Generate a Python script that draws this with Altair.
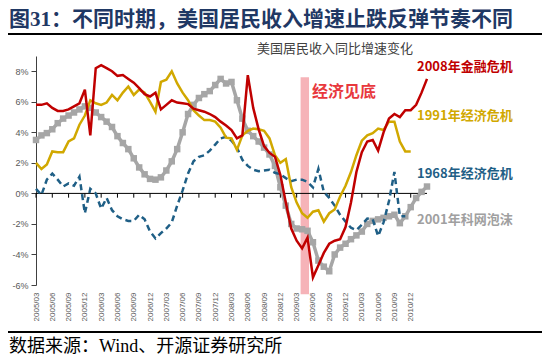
import altair as alt
import pandas as pd

# ---- categories -------------------------------------------------------
months = []
for yr in range(2005, 2012):
    for mo in range(1, 13):
        months.append(f"{yr}/{mo:02d}")
months = months[months.index("2005/03"): months.index("2011/03") + 1]
quarter_labels = months[0:70:3]          # 2005/03 ... 2010/12

# ---- series values (% yoy) -------------------------------------------
red_2008 = [5.8, 5.8, 5.9, 5.6, 5.4, 5.4, 5.5, 5.7, 5.9, 6.8,
            3.8, 8.2, 8.4, 8.2, 8.0, 7.7, 7.75, 7.5, 7.25, 6.9,
            6.5, 6.35, 6.6, 5.5, 5.8, 6.1, 5.95, 5.9, 5.85, 5.55,
            5.45, 5.35, 5.2, 5.0, 4.7, 4.45, 4.15, 3.6, 3.8, 7.75,
            5.6, 4.2, 3.1, 2.65, 2.4, 1.2, -0.6, -2.3, -3.1, -3.6,
            -2.9, -5.5, -4.7, -3.9, -3.3, -3.1, -3.0, -2.2, -0.6, 1.4,
            2.7, 3.4, 3.5, 2.8, 4.0, 4.9, 5.2, 5.0, 5.45, 5.45,
            5.8, 6.6, 7.5]
yellow_1991 = [2.0, 1.6, 1.9, 2.75, 2.7, 2.7, 3.4, 3.6, 4.5, 5.1,
               6.1, 5.9, 5.8, 5.95, 6.45, 6.1, 6.6, 7.0, 6.45, 6.8,
               6.6, 6.0, 5.35, 7.3, 7.45, 8.0, 7.2, 6.6, 6.1, 5.45,
               5.1, 4.8, 4.8, 4.7, 4.3, 3.65, 3.6, 2.85, 3.8, 4.1,
               4.25, 4.2, 4.1, 3.6, 2.5, 2.0, 2.25, 0.4, -0.6, -1.3,
               -1.6, -1.2, -1.1, -1.85, -1.3, -1.05, -0.2, 0.5, 1.4, 2.5,
               3.45, 3.8, 3.95, 4.25, 4.15, 4.7, 4.7, 3.4, 2.75, 2.75]
blue_1968 = [0.3, -0.1, 0.9, 1.3, 0.9, 0.45, 0.65, 0.5, 1.1, -1.3,
             0.3, 0.0, -1.0, -0.3, -1.1, -1.5, -1.7, -1.8, -1.8, -1.4,
             -1.7, -2.5, -2.95, -2.6, -2.3, -1.9, -0.8, 0.2, 1.3, 2.1,
             2.4, 2.5, 2.8, 3.2, 3.6, 3.7, 3.45, 3.0, 2.2, 1.8,
             1.55, 1.45, 1.5, 1.55, 1.35, 1.25, 1.0, 0.8, 0.9, 0.9,
             0.75, 0.4, 1.6, 0.1, -0.3, -0.8, -1.4, -1.85, -2.25, -2.4,
             -2.05, -1.65, -1.7, -2.8, -1.9, -0.5, 1.4, -1.5, -1.5]
gray_2001 = [3.5, 3.8, 3.95, 4.2, 4.6, 4.9, 5.1, 5.3, 5.5, 5.7,
             5.6, 5.3, 5.0, 4.7, 4.35, 3.75, 3.3, 2.9, 2.3, 1.7,
             1.25, 0.95, 0.9, 1.05, 1.5, 2.1, 2.9, 4.0, 5.2, 5.8,
             6.25, 6.5, 6.7, 7.1, 7.5, 7.2, 7.3, 6.1, 4.9, 4.1,
             3.75, 3.4, 3.0, 2.55, 1.8, 0.4, -0.8, -2.0, -2.3, -2.35,
             -2.45, -3.2, -4.4, -4.8, -5.1, -4.0, -3.55, -3.3, -3.0, -2.75,
             -2.5, -2.0, -1.8, -1.7, -1.6, -1.5, -1.4, -1.95, -1.5, -0.9,
             -0.3, 0.1, 0.45]

series_labels = ["2008年金融危机", "1991年经济危机", "1968年经济危机", "2001年科网泡沫"]
band_months = ["2009/04", "2009/05"]
band_range = [7.6, -6.6]
band_text = "经济见底"
title_text = "图31：不同时期，美国居民收入增速止跌反弹节奏不同"
subtitle_text = "美国居民收入同比增速变化"
source_text = "数据来源：Wind、开源证券研究所"
y_ticks = [-6, -4, -2, 0, 2, 4, 6, 8]

RED, YEL, BLU, GRY = "#C00000", "#D1A800", "#1F5F86", "#A6A6A6"
CJK = "Noto Sans CJK SC"
SERIF = "Liberation Serif, Noto Sans CJK SC"


def frame(vals):
    return pd.DataFrame({"month": months[:len(vals)], "value": vals})


xscale = alt.Scale(type="point", domain=months, padding=0)
xaxis = alt.Axis(values=quarter_labels, labelAngle=-90, labelFontSize=8,
                 labelColor="#595959", labelFont="Liberation Sans",
                 domain=False, ticks=False, labelPadding=7, grid=False,
                 title=None)
X = alt.X("month:O", scale=xscale, axis=xaxis)
yscale = alt.Scale(domain=[-6, 9], nice=False, zero=False)
yaxis = alt.Axis(values=y_ticks, labelExpr="datum.value + '%'", grid=False,
                 domainColor="#404040", tickColor="#404040", tickSize=5,
                 labelFontSize=9, labelColor="#595959",
                 labelFont="Liberation Sans", labelPadding=3, title=None)
Y = alt.Y("value:Q", scale=yscale, axis=yaxis)

band = alt.Chart(pd.DataFrame({"month": [band_months[0]], "month2": [band_months[1]],
                               "value": [band_range[0]], "value2": [band_range[1]]})
                 ).mark_rect(color="#F6B3B8", xOffset=-1.5, x2Offset=1.5
                             ).encode(x=X, x2="month2", y=Y, y2="value2")

zero = alt.Chart(pd.DataFrame({"value": [0]})).mark_rule(
    color="#000000", strokeWidth=1).encode(y=Y)

qt = alt.Chart(pd.DataFrame({"month": quarter_labels, "value": 0.0, "value2": -0.28})
               ).mark_rule(color="#000000", strokeWidth=1).encode(x=X, y=Y, y2="value2")

gray = alt.Chart(frame(gray_2001)).mark_line(
    color=GRY, strokeWidth=3.5,
    point=alt.OverlayMarkDef(shape="square", size=42, filled=True, color=GRY, opacity=1)
).encode(x=X, y=Y)
blue = alt.Chart(frame(blue_1968)).mark_line(
    color=BLU, strokeWidth=2.5, strokeDash=[6, 4]).encode(x=X, y=Y)
yellow = alt.Chart(frame(yellow_1991)).mark_line(
    color=YEL, strokeWidth=2.5).encode(x=X, y=Y)
red = alt.Chart(frame(red_2008)).mark_line(
    color=RED, strokeWidth=2.5).encode(x=X, y=Y)


def text_layer(txt, x, y, size, color, weight="normal", align="left", font=CJK):
    return alt.Chart(pd.DataFrame({"t": [txt]})).mark_text(
        align=align, baseline="middle", fontSize=size, fontWeight=weight,
        color=color, font=font
    ).encode(x=alt.value(x), y=alt.value(y), text="t:N")


def hline(y):
    return alt.Chart(pd.DataFrame({"t": [0]})).mark_rule(
        color="#000000", strokeWidth=2
    ).encode(x=alt.value(-28), x2=alt.value(506), y=alt.value(y))


label_colors = [RED, YEL, BLU, "#A0A0A0"]
label_ys = [11, 60, 118, 164]
labels = [text_layer(t, 381, yy, 13, c, "bold")
          for t, c, yy in zip(series_labels, label_colors, label_ys)]

chart = alt.layer(
    band, zero, qt, gray, blue, yellow, red,
    text_layer(band_text, 276, 36, 16, "#E8383D", "bold"),
    *labels,
    text_layer(title_text, -27, -36.5, 21, "#1F3864", "bold", font=SERIF),
    hline(-22),
    text_layer(subtitle_text, 221, -7, 13, "#404040"),
    hline(276),
    text_layer(source_text, -27, 291, 18, "#000000", font=SERIF),
).properties(
    width=391, height=229,
    autosize=alt.AutoSizeParams(type="none"),
    padding={"left": 28, "top": 48, "right": 115, "bottom": 73},
).configure_view(stroke=None)

chart.save("out.html", embed_options={"renderer": "svg", "actions": False})
